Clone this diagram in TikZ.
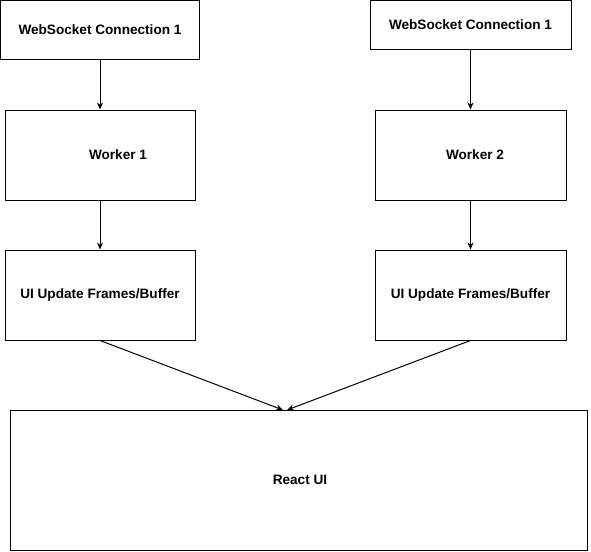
\documentclass[tikz,border=0pt]{standalone}
\usepackage{fontspec}
\setmainfont{Liberation Sans}
\usetikzlibrary{arrows.meta}
\tikzset{>={Stealth[length=7pt,width=6pt]}}

\begin{document}
\begin{tikzpicture}[x=1pt,y=-1pt,
        box/.style={draw,line width=1pt,rectangle,inner sep=0pt,
            font=\fontsize{13.6}{15}\selectfont\bfseries}]
            \useasboundingbox (0,0) rectangle (591,551);

            % Connections
            \node [box,minimum width=199pt,minimum height=59pt] (ws1) at (100,30) {WebSocket Connection 1};
            \node [box,minimum width=201pt,minimum height=49pt] (ws2) at (470.5,25) {WebSocket Connection 1};

            % Workers
            \node [box,minimum width=190pt,minimum height=90pt] (w1) at (100,155) {\hspace*{36pt}Worker 1};
            \node [box,minimum width=191pt,minimum height=90pt] (w2) at (470.5,155) {\hspace*{9pt}Worker 2};

            % Buffers
            \node [box,minimum width=190pt,minimum height=90pt] (buf1) at (100,295) {UI Update Frames/Buffer};
            \node [box,minimum width=191pt,minimum height=90pt] (buf2) at (470.5,295) {UI Update Frames/Buffer};

            % UI
            \node [box,minimum width=577pt,minimum height=140pt] (ui) at (298.5,480) {\hspace*{3pt}React UI};
            \coordinate (in1) at (283,410);
            \coordinate (in2) at (287,410);

            \draw [->,line width=1pt] (ws1) -- (w1);
            \draw [->,line width=1pt] (ws2) -- (w2);
            \draw [->,line width=1pt] (w1) -- (buf1);
            \draw [->,line width=1pt] (w2) -- (buf2);
            \draw [->,line width=1pt] (buf1.south) -- (in1);
            \draw [->,line width=1pt] (buf2.south) -- (in2);
        \end{tikzpicture}
\end{document}
